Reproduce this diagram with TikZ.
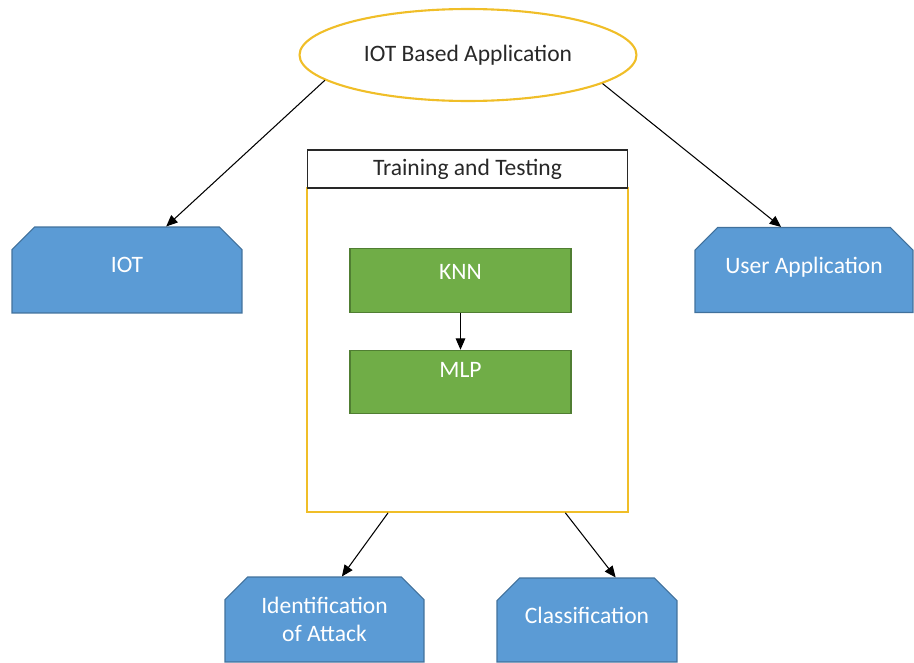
\documentclass[tikz,border=0pt]{standalone}
\usepackage{fontspec}
\setmainfont{Carlito}
\usetikzlibrary{arrows.meta, shapes.geometric, shapes.misc, positioning}
\definecolor{appgold}{RGB}{240,190,40}
\definecolor{appblue}{RGB}{91,155,213}
\definecolor{appblueline}{RGB}{65,113,156}
\definecolor{appgreen}{RGB}{112,173,71}
\definecolor{appgreenline}{RGB}{80,126,50}
\definecolor{apptext}{RGB}{40,40,40}

\begin{document}
\begin{tikzpicture}[x=0.02cm, y=-0.02cm,
    every node/.style={font=\fontsize{13.4}{16}\selectfont},
    app/.style={ellipse, draw=appgold, line width=1.2pt, text=apptext,
                minimum width=6.74cm, minimum height=1.84cm},
    tab/.style={chamfered rectangle, chamfered rectangle corners={north west,north east},
                chamfered rectangle xsep=0.26cm, chamfered rectangle ysep=0.19cm,
                draw=appblueline, fill=appblue, text=white, align=center, line width=0.6pt},
    algo/.style={draw=appgreenline, fill=appgreen, text=white, line width=0.6pt,
                 minimum width=4.42cm, minimum height=1.27cm},
    lift/.style={text depth=#1},
    arr/.style={-{Triangle[length=6.5pt, width=5.5pt]}, line width=0.6pt, black}
  ]
    \useasboundingbox (0,0) rectangle (914,663);

    \node[app] (app) at (468,55) {IOT Based Application};

    \node[tab, minimum width=4.6cm, minimum height=1.72cm, lift=0.2cm] (iot) at (127,270) {IOT};
    \node[tab, minimum width=4.36cm, minimum height=1.7cm, lift=0.2cm] (uapp) at (804,270) {User Application};

    \node[draw=appgold, line width=1pt, minimum width=6.42cm, minimum height=6.48cm] (traintest) at (467.5,350) {};
    \node[draw=apptext, fill=white, line width=0.6pt, text=apptext,
          minimum width=6.42cm, minimum height=0.76cm] (head) at (467.5,169) {Training and Testing};

    \node[algo, lift=0.36cm] (knn) at (460.5,280.5) {KNN};
    \node[algo, lift=0.48cm] (mlp) at (460.5,382) {MLP};

    \node[tab, minimum width=3.98cm, minimum height=1.7cm] (ident) at (324.5,619.5) {Identification\\of Attack};
    \node[tab, minimum width=3.6cm, minimum height=1.68cm, lift=0.2cm] (cls) at (587,620) {Classification};

    \draw[arr] (app.190) -- (iot.48);
    \draw[arr] (app.348) -- (uapp.118);
    \draw[arr] (knn) -- (mlp);
    \draw[arr] (traintest.244) -- (ident.68);
    \draw[arr] (traintest.301) -- (cls.56);
  \end{tikzpicture}
\end{document}
